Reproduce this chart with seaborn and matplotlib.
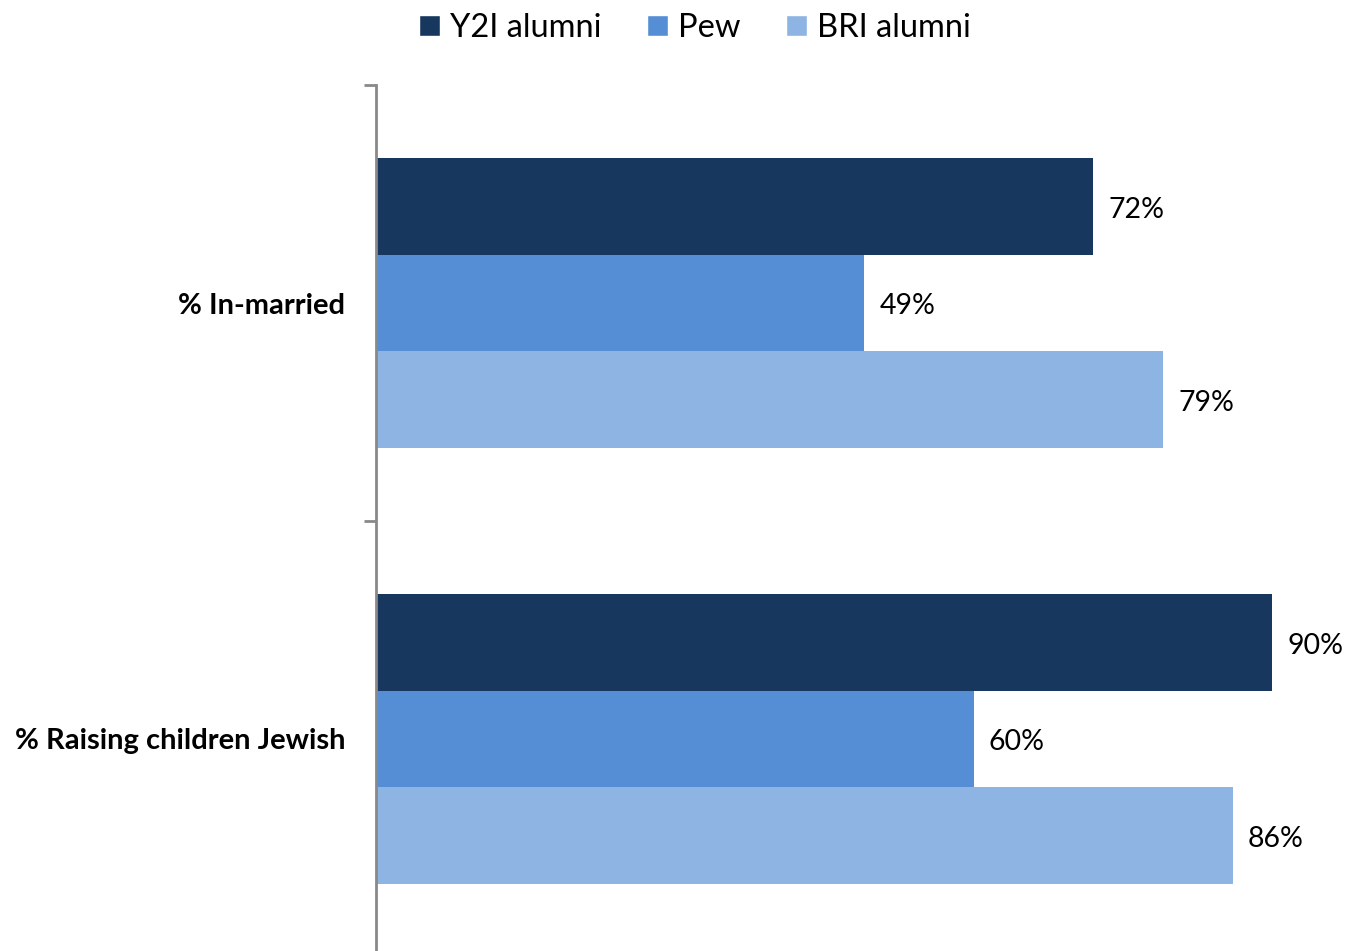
import pandas as pd
import matplotlib.pyplot as plt
import seaborn as sns
from matplotlib.patches import Patch

categories = ['% In-married', '% Raising children Jewish']
series = ['Y2I alumni', 'Pew', 'BRI alumni']
y2i = [72, 90]
pew = [49, 60]
bri = [79, 86]
colors = ['#17375E', '#558ED5', '#8EB4E3']

df = pd.DataFrame({
    'Category': categories * 3,
    'Group': [s for s in series for _ in categories],
    'Value': y2i + pew + bri,
})

sns.set_theme(style='white')
plt.rcParams['font.family'] = ['Lato', 'DejaVu Sans']
plt.rcParams['text.color'] = 'black'
plt.rcParams['ytick.color'] = 'black'

fig = plt.figure(figsize=(13.59, 9.51), dpi=100)
ax = fig.add_axes([376 / 1359, -6 / 951, 1 - 376 / 1359, (957 - 85) / 951])

sns.barplot(data=df, y='Category', x='Value', hue='Group', hue_order=series,
            palette=colors, orient='h', width=0.665, saturation=1,
            linewidth=0, legend=False, ax=ax)

# percentage labels at bar ends
for cont in ax.containers:
    texts = ax.bar_label(cont, labels=[f'{v:.0f}%' for v in cont.datavalues],
                         padding=11, fontsize=20.5, color='black')
    for t in texts:
        t.xyann = (11, -2.5)

ax.set_xlim(0, 98.7)
ax.set_ylim(1.5, -0.5)
ax.set_xlabel('')
ax.set_ylabel('')
ax.set_xticks([])
ax.set_yticks([0, 1])
ax.set_yticklabels(categories, fontsize=21, fontweight='bold', color='black')
ax.set_yticks([-0.5, 0.5, 1.5], minor=True)
ax.tick_params(axis='y', which='major', length=0, pad=22)
ax.tick_params(axis='y', which='minor', length=9, width=2, color='#898989', left=True)
for s in ['top', 'right', 'bottom']:
    ax.spines[s].set_visible(False)
ax.spines['left'].set_color('#898989')
ax.spines['left'].set_linewidth(2)

handles = [Patch(facecolor=c, label=s) for c, s in zip(colors, series)]
fig.legend(handles=handles, loc='center', bbox_to_anchor=(695 / 1359, 1 - 28 / 951),
           ncol=3, frameon=False, fontsize=23.5, handlelength=0.65, handleheight=0.65,
           handletextpad=0.3, columnspacing=1.4)

fig.savefig('out.png', dpi=100)
